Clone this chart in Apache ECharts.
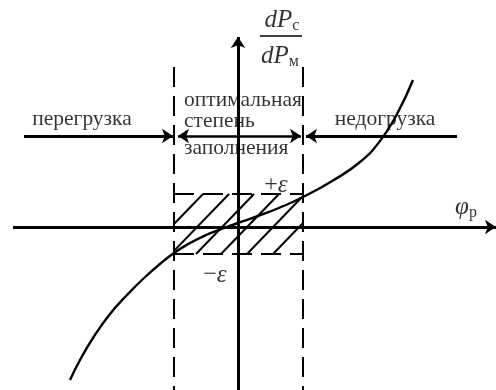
<!DOCTYPE html>
<html>
<head>
<meta charset="utf-8">
<script src="https://cdn.jsdelivr.net/npm/echarts@6/dist/echarts.min.js"></script>
<style>
html,body{margin:0;padding:0;background:#fff;}
#chart{width:496px;height:390px;}
</style>
</head>
<body>
<div id="chart"></div>
<script>
// ---- data (schematic units, origin at axes crossing) ----
var curveX = [-168,-158,-145,-128,-111,-95,-78,-64,-48,-33,-15,0,20,42,65,95,122,142,159,175];
var curveY = [-153,-133,-111,-87,-68,-52,-37,-26,-16,-8.5,-1.5,4,11,19.5,30,46.5,65,86,113,147];

var xRange = [-225, 258];      // horizontal axis φр
var yRange = [-163, 190];      // vertical axis dPс/dPм
var zoneBounds = [-64, 65];    // optimal filling zone
var epsPlus = 33, epsMinus = -27;
var zoneTop = 160;
var arrowRowY = 91;
var leftArrow = [-214, -65];
var midArrow = [-60, 63];
var rightArrow = [219, 68];
// hatch lines: bottom x-intercepts (at -ε) and horizontal run to +ε
var hatchBottoms = [-93, -67, -42, -17, 9, 35];
var hatchRun = 58;

var textFont = "'Liberation Serif','Times New Roman',serif";
var labelOverload = "перегрузка";
var labelUnderload = "недогрузка";
var labelOptimal = ["оптимальная", "степень", "заполнения"];

// ---- build geometry from data ----
var curve = curveX.map(function(x,i){ return [x, curveY[i]]; });

var hatchSegs = hatchBottoms.map(function(b){
  var x1 = b, y1 = epsMinus, x2 = b + hatchRun, y2 = epsPlus;
  var k = (epsPlus - epsMinus) / hatchRun;
  if (x1 < zoneBounds[0]) { y1 = epsMinus + (zoneBounds[0] - b) * k; x1 = zoneBounds[0]; }
  if (x2 > zoneBounds[1]) { y2 = epsMinus + (zoneBounds[1] - b) * k; x2 = zoneBounds[1]; }
  return {coords: [[x1,y1],[x2,y2]]};
});

var chart = echarts.init(document.getElementById('chart'), null, {renderer:'canvas'});

function txt(x, y, rich, fmt, extra) {
  var lbl = Object.assign({show:true, position:'inside', formatter: fmt, rich: rich,
    color:'#000', fontFamily: textFont, fontSize: 21.5}, extra || {});
  return {value:[x,y], label: lbl};
}

var richMath = {
  i: {fontFamily: textFont, fontStyle:'italic', fontSize: 25, color:'#000'},
  n: {fontFamily: textFont, fontSize: 24, color:'#000'},
  s: {fontFamily: textFont, fontSize: 16, color:'#000', padding:[12,0,0,0]}
};

var option = {
  backgroundColor: '#fff',
  animation: false,
  grid: {left: 0, top: 0, right: 0, bottom: 0},
  xAxis: {type:'value', min: -238, max: 258, show: false},
  yAxis: {type:'value', min: -163, max: 227, show: false},
  series: [
    { // axes and single arrows
      type:'lines', coordinateSystem:'cartesian2d', clip:false,
      symbol:['none','arrow'], symbolSize: 11,
      lineStyle:{color:'#000', width:3, opacity:1},
      data:[
        {coords:[[xRange[0],0],[xRange[1],0]]},
        {coords:[[0,yRange[0]],[0,yRange[1]]]},
        {coords:[[leftArrow[0],arrowRowY],[leftArrow[1],arrowRowY]]},
        {coords:[[rightArrow[0],arrowRowY],[rightArrow[1],arrowRowY]]}
      ]
    },
    { // double arrow
      type:'lines', coordinateSystem:'cartesian2d', clip:false,
      symbol:['arrow','arrow'], symbolSize: 11,
      lineStyle:{color:'#000', width:2.5, opacity:1},
      data:[{coords:[[midArrow[0],arrowRowY],[midArrow[1],arrowRowY]]}]
    },
    { // dashed zone borders
      type:'lines', coordinateSystem:'cartesian2d', clip:false,
      symbol:'none',
      lineStyle:{color:'#000', width:2, type:[20,9], opacity:1},
      data:[
        {coords:[[zoneBounds[0],zoneTop],[zoneBounds[0],yRange[0]]]},
        {coords:[[zoneBounds[1],zoneTop],[zoneBounds[1],yRange[0]]]},
        {coords:[[zoneBounds[0],epsPlus],[zoneBounds[1],epsPlus]]},
        {coords:[[zoneBounds[0],epsMinus],[zoneBounds[1],epsMinus]]}
      ]
    },
    { // hatching
      type:'lines', coordinateSystem:'cartesian2d', clip:false,
      symbol:'none',
      lineStyle:{color:'#000', width:2, opacity:1},
      data: hatchSegs
    },
    { // fraction bar
      type:'lines', coordinateSystem:'cartesian2d', clip:false,
      symbol:'none',
      lineStyle:{color:'#000', width:1.5, opacity:1},
      data:[{coords:[[22,191],[64,191]]}]
    },
    { // characteristic curve
      type:'line', data: curve, smooth: 0.5, showSymbol:false, clip:false,
      lineStyle:{color:'#000', width:2.4}
    },
    { // text
      type:'scatter', symbolSize: 0, clip:false, silent:true,
      data:[
        txt(-156, 108, null, labelOverload),
        txt(147, 108, null, labelUnderload),
        txt(-54, 127, null, labelOptimal[0], {position:[0,0], align:'left', verticalAlign:'middle'}),
        txt(-54, 106, null, labelOptimal[1], {position:[0,0], align:'left', verticalAlign:'middle'}),
        txt(-54, 79, null, labelOptimal[2], {position:[0,0], align:'left', verticalAlign:'middle'}),
        txt(44, 207, richMath, '{i|dP}{s|с}'),
        txt(42, 171, richMath, '{i|dP}{s|м}'),
        txt(38, 42, richMath, '{n|+}{i|ε}'),
        txt(-23, -48, richMath, '{n|−}{i|ε}'),
        txt(228, 20, richMath, '{i|φ}{s|р}')
      ]
    }
  ]
};
chart.setOption(option);
</script>
</body>
</html>
